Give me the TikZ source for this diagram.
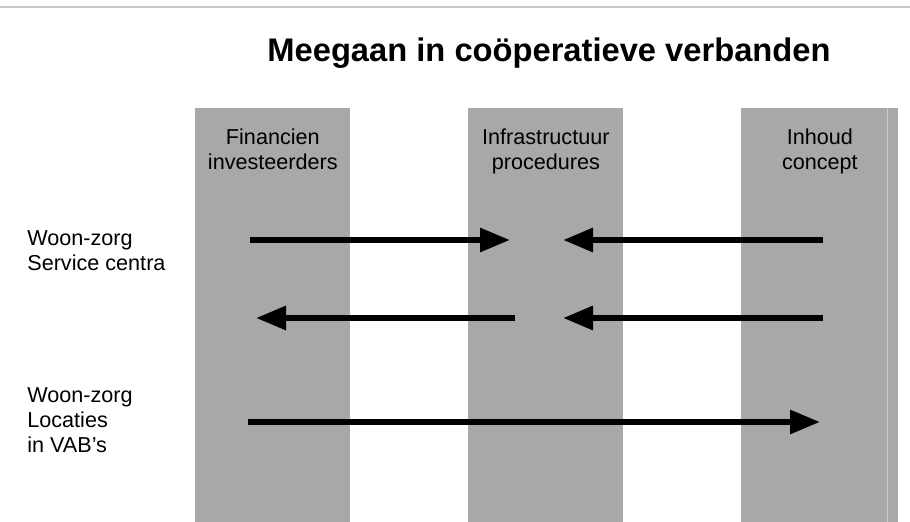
\documentclass[tikz,border=0pt]{standalone}
\usepackage{fontspec}
\setmainfont{Liberation Sans}
\usepackage{tikz}
\usetikzlibrary{arrows.meta,positioning}

\definecolor{colgray}{RGB}{168,168,168}
\definecolor{rulegray}{RGB}{200,200,200}

\tikzset{
  column/.style={fill=colgray,draw=none,minimum width=31mm,minimum height=82.8mm,anchor=north west,inner sep=0pt},
  header/.style={align=center,font=\fontsize{12.3}{14.2}\selectfont,anchor=north},
  rowlabel/.style={align=left,font=\fontsize{12.3}{14.2}\selectfont,anchor=north west,inner sep=0pt},
  fatarrow/.style={line width=1.2mm,-{Triangle[length=6mm,width=4.6mm]}}
}

\begin{document}
\begin{tikzpicture}[x=0.2mm,y=-0.2mm]
\useasboundingbox (0,0) rectangle (910,522);
\draw[rulegray,line width=0.4mm] (0,7) -- (910,7);

\node[font=\bfseries\fontsize{18.6}{22}\selectfont] (title) at (549,53) {Meegaan in coöperatieve verbanden};

% kolommen
\node[column] (fin) at (195,108) {};
\node[column] (infra) at (468,108) {};
\node[column,minimum width=31.4mm] (inh) at (741,108) {};
\draw[black!20,line width=0.2mm] (887,108) -- (887,522);

\node[header] (finh) at ([yshift=-3mm]fin.north) {Financien\\investeerders};
\node[header] (infrah) at ([yshift=-3mm]infra.north) {Infrastructuur\\procedures};
\node[header] (inhh) at ([yshift=-3mm]inh.north) {Inhoud\\concept};

% rijen
\node[rowlabel] (service) at (27,230) {Woon-zorg\\Service centra};
\node[rowlabel] (locaties) at (27,387) {Woon-zorg\\Locaties\\in VAB's};

\coordinate (a1) at (250,240);
\coordinate (a2) at (510,240);
\coordinate (b1) at (823,240);
\coordinate (b2) at (563,240);
\coordinate (c1) at (515,318);
\coordinate (c2) at (256,318);
\coordinate (d1) at (823,318);
\coordinate (d2) at (563,318);
\coordinate (e1) at (248,422);
\coordinate (e2) at (820,422);

\draw[fatarrow] (a1) -- (a2);
\draw[fatarrow] (b1) -- (b2);
\draw[fatarrow] (c1) -- (c2);
\draw[fatarrow] (d1) -- (d2);
\draw[fatarrow] (e1) -- (e2);
\end{tikzpicture}
\end{document}
